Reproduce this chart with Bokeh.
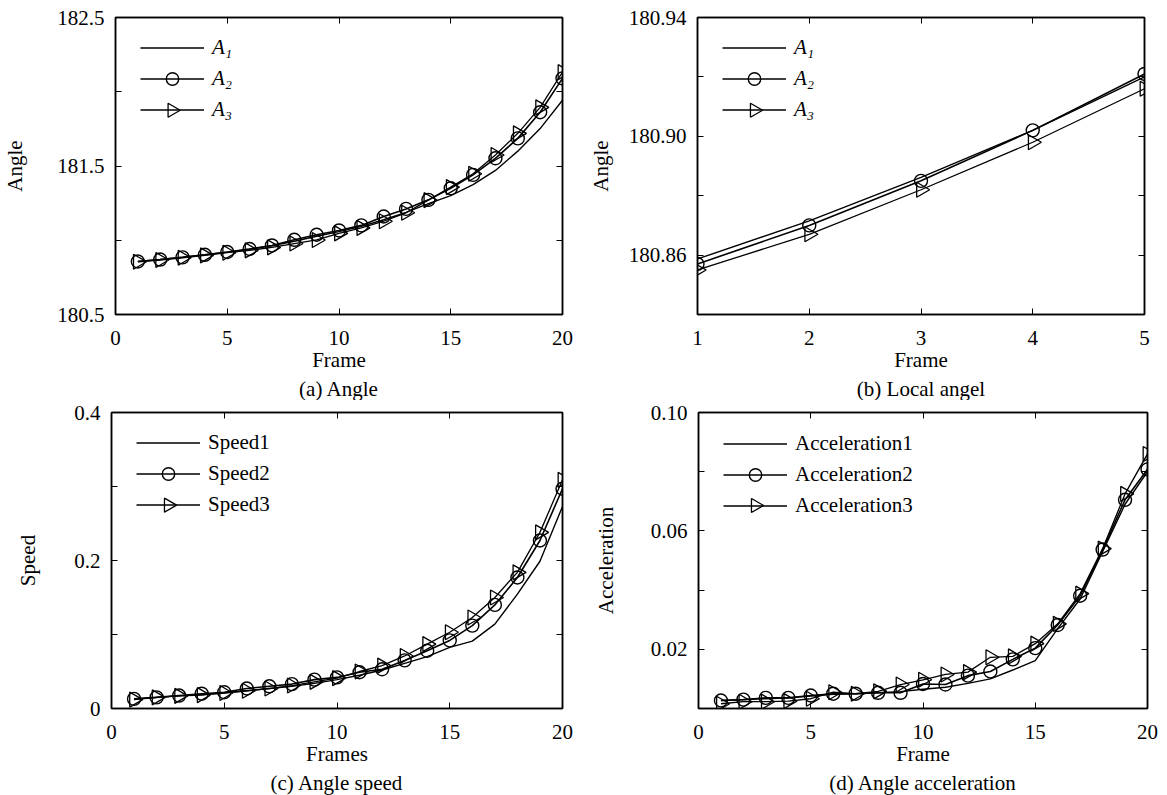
import math
from bokeh.plotting import figure
from bokeh.models import (FixedTicker, LinearAxis, Range1d, Legend, LegendItem, Title,
                          CustomJSTickFormatter, CustomLabelingPolicy)
from bokeh.layouts import column, row
from bokeh.embed import file_html
from bokeh.resources import INLINE

FONT = "Liberation Serif"
FS = "21px"

# ---------------- data ----------------
frames = list(range(1, 21))
local_frames = [1, 2, 3, 4, 5]

angle_a1 = [180.858, 180.871, 180.886, 180.902, 180.920, 180.940, 180.963, 180.993, 181.027, 181.058,
            181.093, 181.138, 181.188, 181.247, 181.300, 181.375, 181.470, 181.600, 181.752, 181.943]
angle_a2 = [180.857, 180.870, 180.885, 180.902, 180.921, 180.941, 180.965, 181.003, 181.037, 181.066,
            181.100, 181.160, 181.211, 181.272, 181.350, 181.440, 181.552, 181.686, 181.862, 182.090]
angle_a3 = [180.855, 180.867, 180.882, 180.898, 180.916, 180.932, 180.952, 180.978, 181.002, 181.046,
            181.083, 181.128, 181.185, 181.270, 181.358, 181.448, 181.574, 181.720, 181.895, 182.132]

local_a1 = [180.8587, 180.8715, 180.8862, 180.902, 180.920]
local_a2 = [180.857, 180.870, 180.885, 180.902, 180.921]
local_a3 = [180.855, 180.867, 180.882, 180.898, 180.916]

speed1 = [0.013, 0.015, 0.017, 0.019, 0.021, 0.024, 0.027, 0.030, 0.034, 0.039,
          0.045, 0.052, 0.061, 0.070, 0.0826, 0.091, 0.114, 0.1545, 0.199, 0.273]
speed2 = [0.013, 0.015, 0.0175, 0.020, 0.022, 0.027, 0.030, 0.033, 0.039, 0.042,
          0.049, 0.053, 0.065, 0.078, 0.092, 0.112, 0.140, 0.177, 0.227, 0.297]
speed3 = [0.012, 0.015, 0.017, 0.018, 0.021, 0.024, 0.027, 0.031, 0.036, 0.041,
          0.050, 0.058, 0.071, 0.087, 0.103, 0.123, 0.150, 0.184, 0.238, 0.309]

acc1 = [0.0027, 0.0030, 0.0033, 0.0036, 0.0042, 0.0048, 0.0050, 0.0053, 0.0057, 0.0065,
        0.0072, 0.0085, 0.0100, 0.0130, 0.0162, 0.0270, 0.0370, 0.0530, 0.0690, 0.0800]
acc2 = [0.0027, 0.0030, 0.0036, 0.0036, 0.0044, 0.0050, 0.0050, 0.0053, 0.0053, 0.0083,
        0.0081, 0.0111, 0.0125, 0.0166, 0.0204, 0.0282, 0.0381, 0.0537, 0.0705, 0.0808]
acc3 = [0.0016, 0.0023, 0.0023, 0.0025, 0.0033, 0.0055, 0.0050, 0.0058, 0.0081, 0.0097,
        0.0115, 0.0123, 0.0173, 0.0176, 0.0219, 0.0286, 0.0388, 0.0540, 0.0725, 0.0860]

x_ticks_20 = [0, 5, 10, 15, 20]
x_ticks_5 = [1, 2, 3, 4, 5]

NO_LABELS = "for (const i of indices) { indices.unset(i) }\nreturn indices"

LEG_X = 25      # legend glyph offset from frame left (px)
LEG_TOP = 15.5  # legend top offset from frame top (px)
ROW_H = 31
GLYPH_W = 64


def make_panel(width, height, bl, br, bt, bb, xr, yr, xticks, ymajor, yminor, ydec,
               xs, ys, labels, italic, xlabel, ylabel, caption, ylabel_standoff):
    p = figure(width=width, height=height, x_range=Range1d(*xr), y_range=Range1d(*yr),
               output_backend="svg", toolbar_location=None,
               min_border_left=bl, min_border_right=br, min_border_top=bt, min_border_bottom=bb,
               background_fill_color="white", border_fill_color="white")
    p.grid.visible = False
    p.outline_line_color = "black"
    p.outline_line_width = 1.5

    xt = FixedTicker(ticks=xticks, minor_ticks=[])
    yt = FixedTicker(ticks=ymajor, minor_ticks=yminor)
    xfmt = CustomJSTickFormatter(code="return tick.toFixed(0)")
    yfmt = CustomJSTickFormatter(code="return tick == 0 ? '0' : tick.toFixed(%d)" % ydec)

    for ax in (p.xaxis[0], p.yaxis[0]):
        ax.axis_line_color = "black"
        ax.axis_line_width = 1.5
        ax.major_tick_in = 6
        ax.major_tick_out = 0
        ax.minor_tick_in = 6
        ax.minor_tick_out = 0
        ax.major_tick_line_color = "black"
        ax.minor_tick_line_color = "black"
        ax.major_label_text_font = FONT
        ax.major_label_text_font_size = FS
        ax.major_label_text_color = "black"
        ax.axis_label_text_font = FONT
        ax.axis_label_text_font_size = FS
        ax.axis_label_text_font_style = "normal"
        ax.axis_label_text_color = "black"
    p.xaxis[0].ticker = xt
    p.xaxis[0].formatter = xfmt
    p.xaxis[0].major_label_standoff = 16
    p.xaxis[0].axis_label = xlabel
    p.xaxis[0].axis_label_standoff = 0
    p.yaxis[0].ticker = yt
    p.yaxis[0].formatter = yfmt
    p.yaxis[0].major_label_standoff = 11
    p.yaxis[0].axis_label = ylabel
    p.yaxis[0].axis_label_standoff = ylabel_standoff

    top = LinearAxis(ticker=xt, major_label_text_font_size="0px", major_label_standoff=0,
                     major_label_policy=CustomLabelingPolicy(code=NO_LABELS),
                     major_tick_in=6, major_tick_out=0, minor_tick_in=6, minor_tick_out=0,
                     axis_line_color="black", axis_line_width=1.5)
    right = LinearAxis(ticker=yt, major_label_text_font_size="0px", major_label_standoff=0,
                       major_label_policy=CustomLabelingPolicy(code=NO_LABELS),
                       major_tick_in=6, major_tick_out=0, minor_tick_in=6, minor_tick_out=0,
                       axis_line_color="black", axis_line_width=1.5)
    p.add_layout(top, "above")
    p.add_layout(right, "right")

    p.add_layout(Title(text=caption, align="center", text_font=FONT, text_font_size=FS,
                       text_font_style="normal", text_color="black", standoff=0), "below")

    r1 = p.line(xs, ys[0], line_color="black", line_width=1.4)
    r2 = p.line(xs, ys[1], line_color="black", line_width=1.6)
    m2 = p.scatter(xs, ys[1], marker="circle", size=13, fill_alpha=0, line_color="black", line_width=1.4)
    r3 = p.line(xs, ys[2], line_color="black", line_width=1.3)
    p.scatter(xs, ys[2], marker="triangle", angle=-math.pi / 2, size=15, fill_alpha=0,
              line_color="black", line_width=1.3)

    frame_h = height - bt - bb
    frame_w = width - bl - br
    leg_h = 3 * ROW_H
    legend = Legend(items=[LegendItem(label=labels[0], renderers=[r1]),
                           LegendItem(label=labels[1], renderers=[r2, m2]),
                           LegendItem(label=labels[2], renderers=[r3])],
                    location=(LEG_X, frame_h - LEG_TOP - leg_h), padding=0, margin=0,
                    border_line_alpha=0, background_fill_alpha=0,
                    glyph_width=GLYPH_W, glyph_height=ROW_H, label_height=ROW_H, spacing=0,
                    label_standoff=8, label_text_font=FONT, label_text_font_size=FS,
                    label_text_font_style="italic" if italic else "normal",
                    label_text_color="black")
    p.add_layout(legend)

    # right-pointing triangle of the third legend entry, placed through the data scales
    lx = xr[0] + (LEG_X + GLYPH_W / 2) / frame_w * (xr[1] - xr[0])
    ly = yr[1] - (LEG_TOP + 2.5 * ROW_H) / frame_h * (yr[1] - yr[0])
    p.scatter([lx], [ly], marker="triangle", angle=-math.pi / 2, size=14, fill_alpha=0,
              line_color="black", line_width=1.3)
    return p


pa = make_panel(580, 400, 112, 18, 17, 85, (0, 20), (180.5, 182.5), x_ticks_20,
                [180.5, 181.5, 182.5], [181.0, 182.0], 1,
                frames, [angle_a1, angle_a2, angle_a3], ["A\u2081", "A\u2082", "A\u2083"], True,
                "Frame", "Angle", "(a) Angle", 27)
pb = make_panel(587, 400, 117, 23, 17, 85, (1, 5), (180.84, 180.94), x_ticks_5,
                [180.86, 180.90, 180.94], [180.84, 180.88, 180.92], 2,
                local_frames, [local_a1, local_a2, local_a3], ["A\u2081", "A\u2082", "A\u2083"], True,
                "Frame", "Angle", "(b) Local angel", 13)
pc = make_panel(580, 395, 111, 18, 11, 87, (0, 20), (0, 0.4), x_ticks_20,
                [0, 0.2, 0.4], [0.1, 0.3], 1,
                frames, [speed1, speed2, speed3], ["Speed1", "Speed2", "Speed3"], False,
                "Frames", "Speed", "(c) Angle speed", 31)
pd_ = make_panel(587, 395, 118, 20, 12, 87, (0, 20), (0, 0.1), x_ticks_20,
                 [0.02, 0.06, 0.10], [0.0, 0.04, 0.08], 2,
                 frames, [acc1, acc2, acc3], ["Acceleration1", "Acceleration2", "Acceleration3"], False,
                 "Frame", "Acceleration", "(d) Angle acceleration", 30)

layout = column(row(pa, pb, spacing=0), row(pc, pd_, spacing=0), spacing=0)
open("out.html", "w").write(file_html(layout, INLINE))
